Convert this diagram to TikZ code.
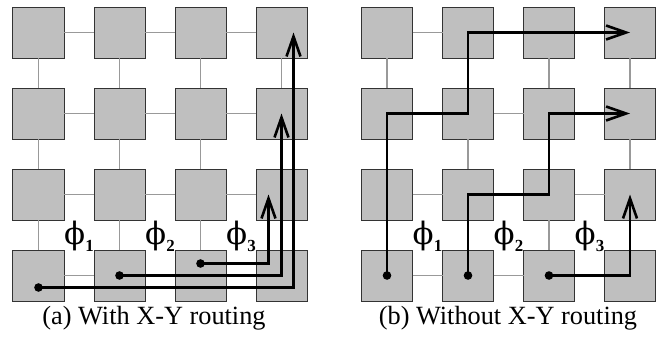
\documentclass[tikz,border=0pt]{standalone}
\usepackage{fontspec}
\setmainfont{Liberation Serif}
\newfontfamily\phifont{DejaVu Serif}
\usetikzlibrary{arrows.meta,calc}
\newcommand{\philabel}[1]{{\phifont\fontsize{31}{31}\selectfont ϕ}\raisebox{-7bp}{\bfseries\fontsize{17}{17}\selectfont #1}}
\begin{document}
\begin{tikzpicture}[x=1bp,y=-1bp,
  router/.style={draw=black!80, fill=black!25, line width=1bp, minimum size=51bp, inner sep=0pt, outer sep=0pt},
  link/.style={draw=black!40, line width=1.2bp},
  route/.style={line width=2.6bp, line join=miter, -{Straight Barb[length=20bp,width=14bp]}},
  philab/.style={inner sep=0pt, anchor=base},
  captext/.style={font=\fontsize{26.4}{30}\selectfont, anchor=base, inner sep=0pt}]
\useasboundingbox (0,0) rectangle (664,339);
\foreach \i/\x in {1/38.5,2/119.5,3/200.5,4/281.5}{
  \foreach \j/\y in {1/32.5,2/113.5,3/194.5,4/275.5}{
    \node[router] (a\i\j) at (\x,\y) {};
    \node[router] (b\i\j) at (\x+348.5,\y) {};
  }}
\foreach \p in {a,b}{
  \foreach \j in {1,...,4}{
    \draw[link] (\p1\j) -- (\p2\j);
    \draw[link] (\p2\j) -- (\p3\j);
    \draw[link] (\p3\j) -- (\p4\j);
    \draw[link] (\p\j1) -- (\p\j2);
    \draw[link] (\p\j2) -- (\p\j3);
    \draw[link] (\p\j3) -- (\p\j4);
  }}
% (a) with X-Y routing
\coordinate (sa1) at ($(a14.center)+(0,12)$);
\coordinate (ea1) at ($(a41.center)+(12,0)$);
\coordinate (sa2) at (a24.center);
\coordinate (ea2) at (a42.center);
\coordinate (sa3) at ($(a34.center)+(0,-12)$);
\coordinate (ea3) at ($(a43.center)+(-13,0)$);
\draw[route] (sa1) -| (ea1);
\draw[route] (sa2) -| (ea2);
\draw[route] (sa3) -| (ea3);
\foreach \s in {sa1,sa2,sa3}{\fill (\s) circle[radius=4.3bp];}
% (b) without X-Y routing
\draw[route] (b14.center) |- (b22.center) |- (b41.center);
\draw[route] (b24.center) |- (b33.center) |- (b42.center);
\draw[route] (b34.center) -| (b43.center);
\foreach \s in {b14,b24,b34}{\fill (\s.center) circle[radius=4.3bp];}
% labels
\node[philab] (pa1) at ($(a13)!0.5!(a24)+(0,9.5)$) {\philabel{1}};
\node[philab] (pa2) at ($(a23)!0.5!(a34)+(0,9.5)$) {\philabel{2}};
\node[philab] (pa3) at ($(a33)!0.5!(a44)+(0,9.5)$) {\philabel{3}};
\node[philab] (pb1) at ($(b13)!0.5!(b24)+(0,9.5)$) {\philabel{1}};
\node[philab] (pb2) at ($(b23)!0.5!(b34)+(0,9.5)$) {\philabel{2}};
\node[philab] (pb3) at ($(b33)!0.5!(b44)+(0,9.5)$) {\philabel{3}};
\node[captext] (capa) at (154,324) {(a) With X-Y routing};
\node[captext] (capb) at (508,324) {(b) Without X-Y routing};
\end{tikzpicture}
\end{document}
